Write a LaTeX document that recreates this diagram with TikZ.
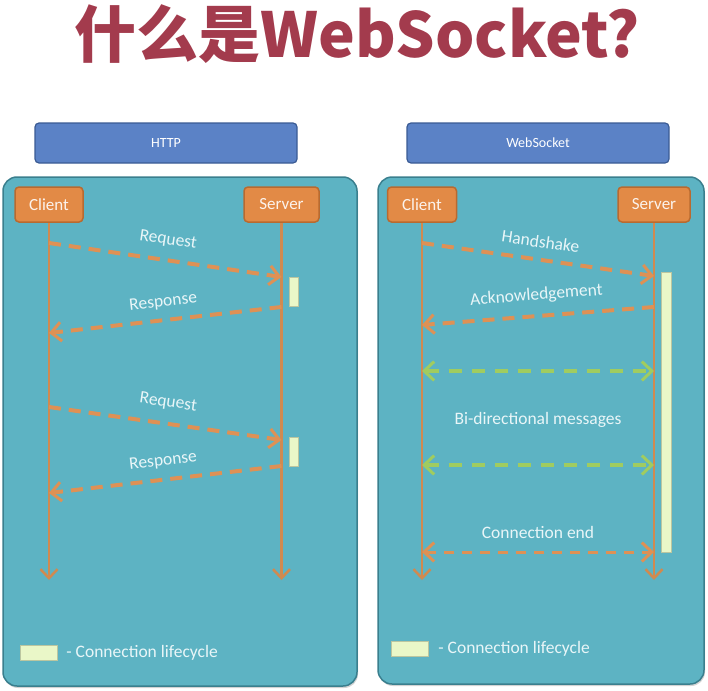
\documentclass[tikz,border=0pt]{standalone}
\usepackage{fontspec}
\setmainfont{Carlito}
\newfontfamily\cjk{Noto Sans CJK SC}
\usepackage{xcolor}
\usetikzlibrary{positioning,arrows.meta,shadows,calc}

\definecolor{titlered}{HTML}{A33B4D}
\definecolor{hdrblue}{HTML}{5B82C6}
\definecolor{hdrline}{HTML}{3A5B94}
\definecolor{panelteal}{HTML}{5DB3C3}
\definecolor{panelline}{HTML}{3A7F8E}
\definecolor{actorfill}{HTML}{E28A46}
\definecolor{actorline}{HTML}{B86A30}
\definecolor{msgorange}{HTML}{DE9155}
\definecolor{lifeorange}{HTML}{D08A50}
\definecolor{msggreen}{HTML}{A0CC60}
\definecolor{barfill}{HTML}{EAF7C8}
\definecolor{labeltext}{HTML}{E9F6F8}

\begin{document}
\begin{tikzpicture}[x=1pt,y=-1pt]
	\tikzstyle{every node}+=[inner sep=0pt]
	\tikzstyle{panel}=[draw=panelline,line width=1.5pt,fill=panelteal,rounded corners=14pt,drop shadow={opacity=0.35,shadow xshift=1pt,shadow yshift=-2pt}]
	\tikzstyle{hdr}=[draw=hdrline,line width=1.2pt,fill=hdrblue,rounded corners=4pt,minimum width=262pt,minimum height=40pt,text=white,font=\fontsize{14}{16}\selectfont]
	\tikzstyle{actor}=[draw=actorline,line width=1.5pt,fill=actorfill,rounded corners=4pt,minimum height=35pt,text=white!90!actorfill,font=\fontsize{17}{19}\selectfont]
	\tikzstyle{life}=[lifeorange,line width=2.5pt,-{Straight Barb[length=9pt,width=17pt,line width=2.5pt]}]
	\tikzstyle{msg}=[msgorange,line width=4pt,dash pattern=on 12pt off 8pt,-{Straight Barb[length=10pt,width=19pt,line width=3pt]}]
	\tikzstyle{both}=[line width=4pt,dash pattern=on 13pt off 10pt,{Straight Barb[length=10pt,width=19pt,line width=3pt]}-{Straight Barb[length=10pt,width=19pt,line width=3pt]}]
	\tikzstyle{lbl}=[text=labeltext,font=\fontsize{17.5}{20}\selectfont]
	\tikzstyle{bar}=[fill=barfill,draw=barfill!80!black,line width=0.4pt,drop shadow={opacity=0.3,shadow xshift=1pt,shadow yshift=-1pt}]
	\useasboundingbox (0,0) rectangle (708,690);

	% title
	\node[text=titlered,font=\cjk\bfseries\fontsize{62}{64}\selectfont] (ttl) at (357,34) {什么是WebSocket?};

	% headers and panels
	\node[hdr] (hh) at (166,143) {HTTP};
	\node[hdr] (wh) at (538,143) {WebSocket};
	\node[panel,minimum width=354pt,minimum height=509pt] (lp) at (180,431.5) {};
	\node[panel,minimum width=326pt,minimum height=507pt] (rp) at (541,430.5) {};

	% actors
	\node[actor,minimum width=68pt] (c1) at (49,204.5) {Client};
	\node[actor,minimum width=75pt] (s1) at (281.5,204.5) {Server};
	\node[actor,minimum width=69pt] (c2) at (422,204.5) {Client};
	\node[actor,minimum width=72pt] (s2) at (654,204.5) {Server};

	% life lines
	\coordinate (c1e) at (c1 |- 0,580);
	\coordinate (s1e) at (s1 |- 0,580);
	\coordinate (c2e) at (c2 |- 0,580);
	\coordinate (s2e) at (s2 |- 0,580);
	\draw[life] (c1) -- (c1e);
	\draw[life] (s1) -- (s1e);
	\draw[life] (c2) -- (c2e);
	\draw[life] (s2) -- (s2e);

	% connection lifecycle bars
	\node[bar,minimum width=9pt,minimum height=29pt] (b1) at (293.5,291.5) {};
	\node[bar,minimum width=9pt,minimum height=29pt] (b2) at (293.5,451.5) {};
	\node[bar,minimum width=10pt,minimum height=280pt] (b3) at (666,412) {};

	% HTTP messages
	\coordinate (q1a) at (c1 |- 0,243);
	\coordinate (q1b) at (s1 |- 0,277);
	\coordinate (p1a) at (s1 |- 0,307);
	\coordinate (p1b) at (c1 |- 0,333);
	\coordinate (q2a) at (c1 |- 0,407);
	\coordinate (q2b) at (s1 |- 0,440);
	\coordinate (p2a) at (s1 |- 0,466);
	\coordinate (p2b) at (c1 |- 0,493);
	\draw[msg] (q1a) -- node[lbl,midway,sloped,above=11pt] (lq1) {Request} (q1b);
	\draw[msg] (p1a) -- node[lbl,midway,sloped,above=9pt] (lp1) {Response} (p1b);
	\draw[msg] (q2a) -- node[lbl,midway,sloped,above=12pt] (lq2) {Request} (q2b);
	\draw[msg] (p2a) -- node[lbl,midway,sloped,above=9pt] (lp2) {Response} (p2b);

	% WebSocket messages
	\coordinate (h1a) at (c2 |- 0,243);
	\coordinate (h1b) at (s2 |- 0,276);
	\coordinate (k1a) at (s2 |- 0,307);
	\coordinate (k1b) at (c2 |- 0,325);
	\coordinate (g1a) at (c2 |- 0,371);
	\coordinate (g1b) at (s2 |- 0,371);
	\coordinate (g2a) at (c2 |- 0,465);
	\coordinate (g2b) at (s2 |- 0,465);
	\coordinate (e1a) at (c2 |- 0,552);
	\coordinate (e1b) at (s2 |- 0,552);
	\draw[msg] (h1a) -- node[lbl,midway,sloped,above=10pt] (lh1) {Handshake} (h1b);
	\draw[msg] (k1a) -- node[lbl,midway,sloped,above=11pt] (lk1) {Acknowledgement} (k1b);
	\draw[both,msggreen] (g1a) -- (g1b);
	\draw[both,msggreen] (g2a) -- (g2b);
	\node[lbl] (lbd) at ($(g1a)!0.5!(g2b)+(0,2)$) {Bi-directional messages};
	\draw[both,msgorange,line width=3pt,dash pattern=on 10pt off 8pt] (e1a) -- node[lbl,midway,above=12pt] (le1) {Connection end} (e1b);

	% legends
	\node[bar,minimum width=37pt,minimum height=15pt] (lg1) at (38.5,652.5) {};
	\node[lbl,right=9pt of lg1] (lt1) {- Connection lifecycle};
	\node[bar,minimum width=37pt,minimum height=15pt] (lg2) at (409.5,648.5) {};
	\node[lbl,right=10pt of lg2] (lt2) {- Connection lifecycle};
\end{tikzpicture}
\end{document}
